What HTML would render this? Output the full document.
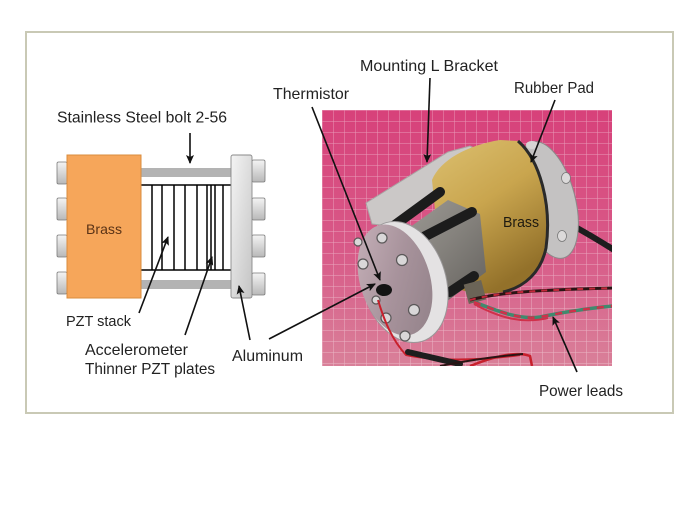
<!DOCTYPE html>
<html><head><meta charset="utf-8"><style>
html,body{margin:0;padding:0;background:#fff;}
svg{display:block}
text{font-family:"Liberation Sans",Arial,sans-serif;fill:#222;}
</style></head><body>
<svg width="700" height="525" viewBox="0 0 700 525" xmlns="http://www.w3.org/2000/svg">
<defs>
<marker id="ah" markerWidth="9" markerHeight="8" refX="8" refY="4" orient="auto" markerUnits="userSpaceOnUse">
<path d="M0,0 L9,4 L0,8 L2,4 Z" fill="#111"/>
</marker>
<linearGradient id="nub" x1="0" y1="0" x2="0" y2="1">
<stop offset="0" stop-color="#f4f4f4"/><stop offset="1" stop-color="#b8b8b8"/>
</linearGradient>
<linearGradient id="alu" x1="0" y1="0" x2="1" y2="1">
<stop offset="0" stop-color="#f4f4f4"/><stop offset="1" stop-color="#c4c4c4"/>
</linearGradient>
<linearGradient id="pinkbg" x1="0" y1="0" x2="0" y2="1">
<stop offset="0" stop-color="#d7417a"/><stop offset="0.55" stop-color="#d85a88"/><stop offset="1" stop-color="#d98099"/>
</linearGradient>
<pattern id="grid" x="322" y="110" width="11" height="11" patternUnits="userSpaceOnUse">
<path d="M0,0 L11,0 M0,0 L0,11" stroke="rgba(255,255,255,0.45)" stroke-width="1" fill="none"/>
</pattern>
<linearGradient id="brass" x1="0" y1="0" x2="0.5" y2="1">
<stop offset="0" stop-color="#dcc070"/><stop offset="0.5" stop-color="#c9a54e"/><stop offset="1" stop-color="#93712a"/>
</linearGradient>
<linearGradient id="plate" x1="0" y1="0" x2="1" y2="1">
<stop offset="0" stop-color="#c9b4bc"/><stop offset="0.5" stop-color="#a8939c"/><stop offset="1" stop-color="#8f7f86"/>
</linearGradient>
<linearGradient id="foil" x1="0" y1="0" x2="1" y2="1">
<stop offset="0" stop-color="#a09d98"/><stop offset="0.5" stop-color="#85827d"/><stop offset="1" stop-color="#64615d"/>
</linearGradient>
<clipPath id="photo"><rect x="322" y="110" width="290" height="256"/></clipPath>
</defs>

<!-- frame -->
<rect x="26" y="32" width="647" height="381" fill="#fff" stroke="#c9c9b5" stroke-width="2"/>

<!-- LEFT DIAGRAM -->
<rect x="141" y="168" width="90" height="9" fill="#b3b3b3"/>
<rect x="141" y="280" width="90" height="9" fill="#b3b3b3"/>
<g stroke="#000" stroke-width="1.5">
<line x1="141" y1="185" x2="231" y2="185"/>
<line x1="141" y1="270" x2="231" y2="270"/>
<line x1="152" y1="185" x2="152" y2="270"/>
<line x1="162" y1="185" x2="162" y2="270"/>
<line x1="174" y1="185" x2="174" y2="270"/>
<line x1="185" y1="185" x2="185" y2="270"/>
<line x1="197" y1="185" x2="197" y2="270"/>
<line x1="207" y1="185" x2="207" y2="270"/>
<line x1="211" y1="185" x2="211" y2="270"/>
<line x1="215" y1="185" x2="215" y2="270"/>
<line x1="223" y1="185" x2="223" y2="270"/>
</g>
<g fill="url(#nub)" stroke="#7a7a7a" stroke-width="0.8">
<rect x="57" y="162" width="10" height="22" rx="1.5"/>
<rect x="57" y="198" width="10" height="22" rx="1.5"/>
<rect x="57" y="235" width="10" height="22" rx="1.5"/>
<rect x="57" y="272" width="10" height="22" rx="1.5"/>
<rect x="252" y="160" width="13" height="22" rx="1.5"/>
<rect x="252" y="198" width="13" height="22" rx="1.5"/>
<rect x="252" y="235" width="13" height="22" rx="1.5"/>
<rect x="252" y="273" width="13" height="22" rx="1.5"/>
</g>
<rect x="67" y="155" width="74" height="143" fill="#f6a65a" stroke="#d98c3e" stroke-width="1"/>
<rect x="231" y="155" width="21" height="143" rx="2" fill="url(#alu)" stroke="#8a8a8a" stroke-width="0.9"/>
<text x="86" y="234" font-size="14" textLength="36" lengthAdjust="spacingAndGlyphs" style="fill:#5a3316">Brass</text>

<!-- PHOTO -->
<g clip-path="url(#photo)">
<rect x="322" y="110" width="290" height="256" fill="url(#pinkbg)"/>
<rect x="322" y="110" width="290" height="256" fill="url(#grid)"/>
<!-- back cable -->
<path d="M570,224 Q592,236 614,250" stroke="#1d1d1d" stroke-width="6" fill="none" stroke-linecap="round"/>
<!-- right aluminum ring -->
<ellipse cx="548" cy="200" rx="27" ry="60" transform="rotate(-15 548 200)" fill="#c4c2c2" stroke="#8c8a8a" stroke-width="1"/>
<ellipse cx="566" cy="178" rx="4.5" ry="5.5" fill="#dcdada" stroke="#777" stroke-width="0.8"/>
<ellipse cx="562" cy="236" rx="4.5" ry="5.5" fill="#dcdada" stroke="#777" stroke-width="0.8"/>
<ellipse cx="532" cy="145" rx="6" ry="4" fill="#d6d4d4"/>
<!-- bracket -->
<polygon points="366,203 448,152 470,146 478,150 466,168 390,226 372,224" fill="#cbc8c7" stroke="#a9a5a4" stroke-width="1"/>
<!-- brass body -->
<path d="M432,180 C440,160 468,145 500,140 L518,141 C540,160 552,205 546,248 C541,272 525,287 503,292 C480,296 458,292 446,282 L438,240 Z" fill="url(#brass)"/>
<path d="M518,141 C540,160 552,205 546,248 C541,272 525,287 503,292" stroke="#2a2a2a" stroke-width="3" fill="none"/>
<!-- foil stack -->
<polygon points="392,240 448,200 480,214 486,272 446,302 408,302" fill="url(#foil)"/>
<!-- rods -->
<g stroke="#1c1c1c" stroke-width="10" stroke-linecap="round">
<line x1="388" y1="230" x2="440" y2="192"/>
<line x1="410" y1="244" x2="472" y2="212"/>
<line x1="450" y1="292" x2="474" y2="276"/>
<line x1="418" y1="300" x2="440" y2="308"/>
</g>
<!-- small connector near brass bottom -->
<rect x="466" y="282" width="18" height="20" fill="#6b6457" transform="rotate(-15 475 292)"/>
<!-- upper red/black twisted wire -->
<path d="M470,300 C500,292 540,290 614,288" stroke="#2a1414" stroke-width="3" fill="none"/>
<path d="M470,300 C500,292 540,290 614,288" stroke="#c2283a" stroke-width="2" stroke-dasharray="6 6" fill="none"/>
<!-- green/red twisted wire -->
<path d="M474,302 C500,312 520,320 540,317 C565,312 590,308 614,306" stroke="#3f8a6e" stroke-width="3.5" fill="none"/>
<path d="M474,302 C500,312 520,320 540,317 C565,312 590,308 614,306" stroke="#d0304a" stroke-width="2.5" stroke-dasharray="7 7" fill="none"/>
<path d="M474,304 C500,318 522,324 548,318" stroke="#d0304a" stroke-width="2" fill="none"/>
<!-- left plate -->
<ellipse cx="404" cy="282" rx="42" ry="62" transform="rotate(-17 404 282)" fill="#e4e2e3" stroke="#9a9899" stroke-width="1"/>
<ellipse cx="395" cy="280" rx="35" ry="57" transform="rotate(-17 395 280)" fill="url(#plate)"/>
<!-- bolts -->
<g fill="#d9d7d8" stroke="#5a5758" stroke-width="1.2">
<circle cx="382" cy="238" r="5"/>
<circle cx="402" cy="260" r="5.5"/>
<circle cx="363" cy="264" r="5"/>
<circle cx="358" cy="242" r="4"/>
<circle cx="414" cy="310" r="5.5"/>
<circle cx="386" cy="318" r="5"/>
<circle cx="405" cy="336" r="5"/>
<circle cx="376" cy="300" r="4"/>
</g>
<!-- thermistor blob -->
<ellipse cx="384" cy="290" rx="8" ry="6" fill="#141414"/>
<!-- red wire from plate -->
<path d="M378,300 C384,320 392,340 406,355 C430,360 470,362 520,355" stroke="#c8202c" stroke-width="2" fill="none"/>
<path d="M408,352 L460,364" stroke="#1e1e1e" stroke-width="6" stroke-linecap="round"/>
<path d="M470,366 C490,358 515,350 530,356 L532,366" stroke="#c8202c" stroke-width="2.5" fill="none"/>
<path d="M440,366 C470,360 500,356 523,354" stroke="#2a1414" stroke-width="2" fill="none"/>
</g>

<!-- LABELS -->
<g font-size="16">
<text x="57" y="122.5" textLength="170" lengthAdjust="spacingAndGlyphs">Stainless Steel bolt 2-56</text>
<text x="273" y="99" textLength="76" lengthAdjust="spacingAndGlyphs">Thermistor</text>
<text x="360" y="71" textLength="138" lengthAdjust="spacingAndGlyphs">Mounting L Bracket</text>
<text x="514" y="93" textLength="80" lengthAdjust="spacingAndGlyphs">Rubber Pad</text>
<text x="66" y="326" font-size="15" textLength="65" lengthAdjust="spacingAndGlyphs">PZT stack</text>
<text x="85" y="355" textLength="103" lengthAdjust="spacingAndGlyphs">Accelerometer</text>
<text x="85" y="374" textLength="130" lengthAdjust="spacingAndGlyphs">Thinner PZT plates</text>
<text x="232" y="361" textLength="71" lengthAdjust="spacingAndGlyphs">Aluminum</text>
<text x="539" y="396" textLength="84" lengthAdjust="spacingAndGlyphs">Power leads</text>
<text x="503" y="227" font-size="15" textLength="36" lengthAdjust="spacingAndGlyphs" style="fill:#1e1a10">Brass</text>
</g>

<!-- ARROWS -->
<g stroke="#111" stroke-width="1.6" fill="none" marker-end="url(#ah)">
<line x1="190" y1="133" x2="190" y2="163"/>
<line x1="139" y1="313" x2="168" y2="237"/>
<line x1="185" y1="335" x2="212" y2="257"/>
<line x1="250" y1="340" x2="239" y2="286"/>
<line x1="269" y1="339" x2="375" y2="284"/>
<line x1="312" y1="107" x2="380" y2="280"/>
<line x1="430" y1="78" x2="427" y2="162"/>
<line x1="555" y1="100" x2="531" y2="162"/>
<line x1="577" y1="372" x2="553" y2="317"/>
</g>
</svg>
</body></html>
